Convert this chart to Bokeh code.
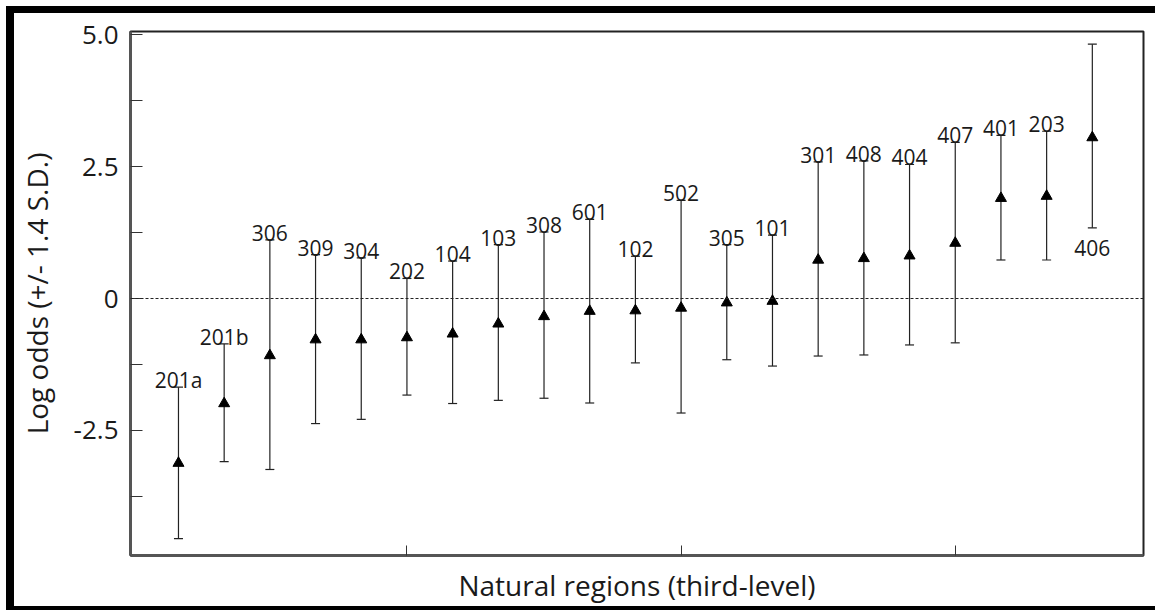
from bokeh.plotting import figure
from bokeh.models import (ColumnDataSource, Whisker, TeeHead, Span, FixedTicker,
                          CustomJSTickFormatter, Range1d)
from bokeh.core.properties import value
from bokeh.embed import file_html
from bokeh.resources import INLINE

# ---- data ----
regions = ["201a", "201b", "306", "309", "304", "202", "104", "103", "308", "601", "102",
           "502", "305", "101", "301", "408", "404", "407", "401", "203", "406"]
estimate = [-3.12, -1.99, -1.08, -0.78, -0.78, -0.74, -0.67, -0.48, -0.34, -0.24, -0.23,
            -0.18, -0.08, -0.05, 0.73, 0.76, 0.81, 1.05, 1.90, 1.94, 3.05]
lower = [-4.55, -3.09, -3.24, -2.37, -2.29, -1.83, -1.99, -1.93, -1.89, -1.98, -1.22,
         -2.17, -1.16, -1.28, -1.09, -1.07, -0.88, -0.84, 0.73, 0.73, 1.34]
upper = [-1.68, -0.86, 1.11, 0.83, 0.77, 0.38, 0.71, 1.02, 1.26, 1.50, 0.80,
         1.86, 1.02, 1.20, 2.59, 2.61, 2.54, 2.96, 3.09, 3.17, 4.82]
label_below = [False] * 20 + [True]

y_ticks = [-2.5, 0, 2.5, 5.0]
y_minor_ticks = [-3.75, -1.25, 1.25, 3.75]
x_ticks = [6, 12, 18]
x_title = "Natural regions (third-level)"
y_title = "Log odds (+/- 1.4 S.D.)"

FONT = "Open Sans"

pos = list(range(1, len(regions) + 1))
src = ColumnDataSource(dict(
    x=pos, est=estimate, lo=lower, hi=upper, name=regions,
    ly=[lo if b else hi for lo, hi, b in zip(lower, upper, label_below)],
    lyo=[20 if b else -7 for b in label_below],
))

p = figure(width=1155, height=610,
           x_range=Range1d(-0.05, 22.12), y_range=Range1d(-4.87, 5.06),
           output_backend="svg", toolbar_location=None,
           min_border_left=130, min_border_right=12, min_border_top=31, min_border_bottom=55)

p.border_fill_color = None
p.background_fill_color = "white"
p.styles = {
    "background-color": "white",
    "background-image": "linear-gradient(black, black), linear-gradient(black, black), linear-gradient(black, black)",
    "background-size": "8px 604px, 1149px 7px, 1149px 6px",
    "background-position": "6px 6px, 6px 6px, 6px 606px",
    "background-repeat": "no-repeat",
}

p.grid.visible = False
p.outline_line_color = "#222222"
p.outline_line_width = 2

# y axis
yax = p.yaxis[0]
yax.ticker = FixedTicker(ticks=y_ticks, minor_ticks=y_minor_ticks)
yax.formatter = CustomJSTickFormatter(code="return tick == 0 ? '0' : tick.toFixed(1);")
yax.major_tick_in = 12
yax.major_tick_out = 0
yax.minor_tick_in = 12
yax.minor_tick_out = 0
yax.major_tick_line_color = "#333333"
yax.minor_tick_line_color = "#333333"
yax.axis_line_width = 3
yax.axis_line_color = "#555555"
yax.major_label_text_font = FONT
yax.major_label_text_font_size = "26px"
yax.major_label_text_color = "#1a1a1a"
yax.major_label_standoff = 12
yax.axis_label = y_title
yax.axis_label_text_font = FONT
yax.axis_label_text_font_size = "28px"
yax.axis_label_text_font_style = "normal"
yax.axis_label_text_color = "#1a1a1a"
yax.axis_label_standoff = 15

# x axis
xax = p.xaxis[0]
xax.ticker = FixedTicker(ticks=x_ticks)
xax.major_label_overrides = {t: "" for t in x_ticks}
xax.major_label_text_font_size = "1px"
xax.major_tick_in = 10
xax.major_tick_out = 0
xax.major_tick_line_color = "#333333"
xax.minor_tick_line_color = None
xax.axis_line_width = 3
xax.axis_line_color = "#555555"
xax.axis_label = x_title
xax.axis_label_text_font = FONT
xax.axis_label_text_font_size = "28px"
xax.axis_label_text_font_style = "normal"
xax.axis_label_text_color = "#1a1a1a"
xax.axis_label_standoff = 10

# zero line
p.add_layout(Span(location=0, dimension="width", line_color="#222222",
                  line_width=1, line_dash="3 2"))

# error bars
wh = Whisker(base="x", lower="lo", upper="hi", source=src,
             line_color="#222222", line_width=1.2,
             upper_head=TeeHead(size=9, line_color="#222222", line_width=1.2),
             lower_head=TeeHead(size=9, line_color="#222222", line_width=1.2))
p.add_layout(wh)

# points
p.scatter("x", "est", source=src, marker="triangle", size=11,
          fill_color="black", line_color="black")

# region labels
p.text("x", "ly", text="name", source=src, y_offset="lyo",
       text_align="center", text_baseline="alphabetic",
       text_font=value(FONT), text_font_size="21px", text_color="#1a1a1a")

open("out.html", "w").write(file_html(p, INLINE))
